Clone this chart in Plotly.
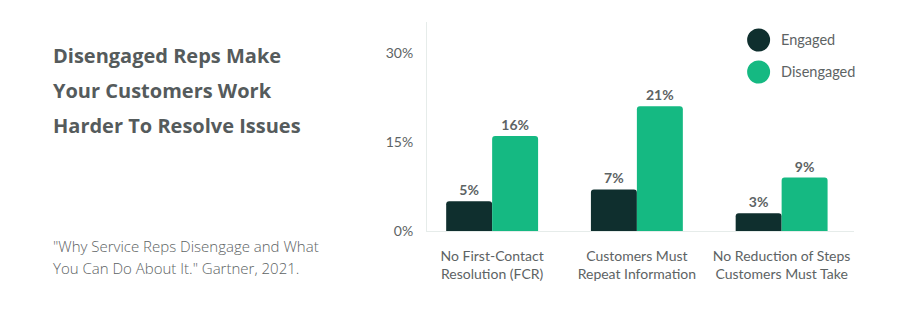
import plotly.graph_objects as go

categories = ["No First-Contact<br>Resolution (FCR)", "Customers Must<br>Repeat Information", "No Reduction of Steps<br>Customers Must Take"]
engaged = [5, 7, 3]
disengaged = [16, 21, 9]
series_names = ["Engaged", "Disengaged"]
tick_vals = [0, 15, 30]
tick_text = ["0%", "15%", "30%"]
title_lines = ["Disengaged Reps Make", "Your Customers Work", "Harder To Resolve Issues"]
source_lines = ["\"Why Service Reps Disengage and What", "You Can Do About It.\" Gartner, 2021."]

DARK = "#0f2f2e"
GREEN = "#15b982"
GRAY = "#5d6364"
FONT = "Lato"
TFONT = "Open Sans"

W, H = 900, 323
L, R, T, B = 427, 45.5, 22, 92
PW, PH = W - L - R, H - T - B

def px(x):
    return (x - L) / PW

def py(y):
    return (H - B - y) / PH

fig = go.Figure()
for name, vals, col in [(series_names[0], engaged, DARK), (series_names[1], disengaged, GREEN)]:
    fig.add_trace(go.Bar(
        name=name, x=categories, y=vals, marker=dict(color=col, cornerradius=3, line=dict(width=0)),
        text=[f"{v}%" for v in vals], textposition="outside", cliponaxis=False,
        textfont=dict(family=FONT, size=14, color=GRAY, weight="bold"), showlegend=False,
    ))

fig.update_layout(
    width=W, height=H, margin=dict(l=L, r=R, t=T, b=B),
    paper_bgcolor="white", plot_bgcolor="white",
    barmode="group", bargap=0.365, bargroupgap=0,
    font=dict(family=FONT, color=GRAY),
    xaxis=dict(range=[-0.45, 2.5], showgrid=False, showline=True, linecolor="#e6ecea", linewidth=1,
               tickfont=dict(family=FONT, size=14, color=GRAY), ticks="", ticklabelstandoff=12, zeroline=False),
    yaxis=dict(range=[0, 35.2], tickvals=tick_vals, ticktext=tick_text, showgrid=False,
               showline=True, linecolor="#e6ecea", linewidth=1, zeroline=False,
               tickfont=dict(family=FONT, size=14, color=GRAY), ticks="", ticklabelstandoff=10),
    showlegend=False,
)

annotations = []
for i, line in enumerate(title_lines):
    annotations.append(dict(text=f"<b>{line}</b>", x=px(51), y=py(55 + 35 * i), xref="paper", yref="paper",
                            xanchor="left", yanchor="middle", showarrow=False,
                            font=dict(family=TFONT, size=20, color="#555b5c")))
for i, line in enumerate(source_lines):
    annotations.append(dict(text=line, x=px(51), y=py(246 + 22 * i), xref="paper", yref="paper",
                            xanchor="left", yanchor="middle", showarrow=False,
                            font=dict(family=TFONT, size=15, color=GRAY, weight=300)))
shapes = []
for i, (name, col) in enumerate([(series_names[0], DARK), (series_names[1], GREEN)]):
    cy = 40 + 32 * i
    shapes.append(dict(type="circle", xref="paper", yref="paper",
                       x0=px(759 - 11.5), x1=px(759 + 11.5), y0=py(cy + 11.5), y1=py(cy - 11.5),
                       fillcolor=col, line=dict(width=0)))
    annotations.append(dict(text=name, x=px(779), y=py(cy - 1), xref="paper", yref="paper",
                            xanchor="left", yanchor="middle", showarrow=False,
                            font=dict(family=FONT, size=14.5, color=GRAY)))
fig.update_layout(annotations=annotations, shapes=shapes)

fig.write_html("out.html")
